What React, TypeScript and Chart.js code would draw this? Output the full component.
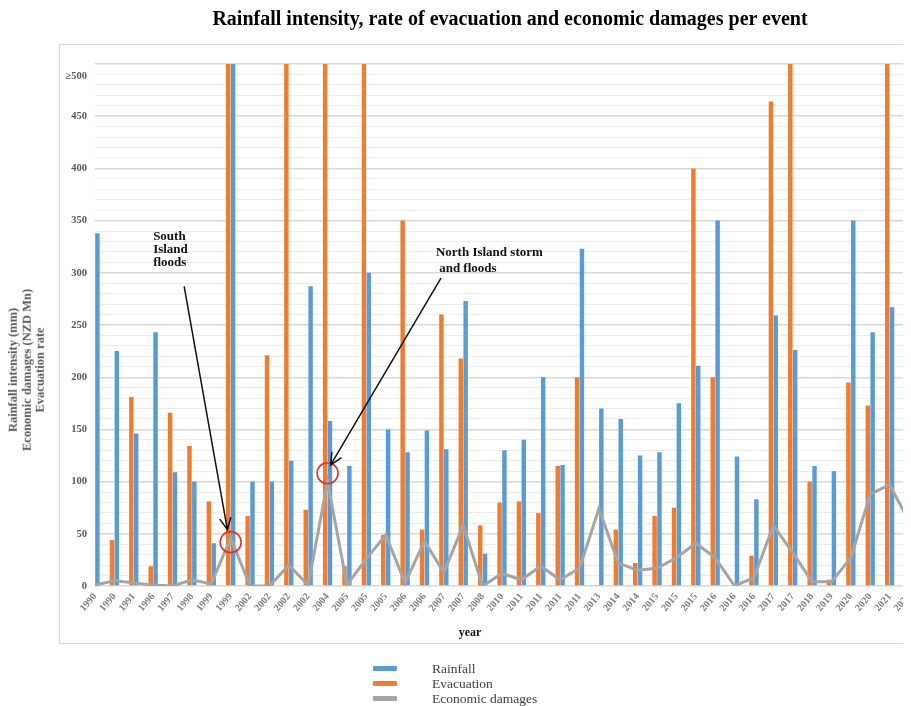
import React, { useEffect, useRef } from 'react';
import { Chart, registerables } from 'chart.js';

Chart.register(...registerables);

const categories = [
  '1990', '1990', '1991', '1996', '1997', '1998', '1999', '1999', '2002', '2002',
  '2002', '2002', '2004', '2005', '2005', '2005', '2006', '2006', '2007', '2007',
  '2008', '2010', '2011', '2011', '2011', '2011', '2013', '2014', '2014', '2015',
  '2015', '2015', '2016', '2016', '2016', '2017', '2017', '2018', '2019', '2020',
  '2020', '2021', '2021',
];

const rainfall = [
  338, 225, 146, 243, 109, 100, 41, 500, 100, 100,
  120, 287, 158, 115, 300, 150, 128, 149, 131, 273,
  31, 130, 140, 200, 116, 323, 170, 160, 125, 128,
  175, 211, 350, 124, 83, 259, 226, 115, 110, 350,
  243, 267, null,
];

const evacuation = [
  193, 44, 181, 19, 166, 134, 81, 500, 67, 221,
  500, 73, 500, 19, 500, 49, 350, 54, 260, 218,
  58, 80, 81, 70, 115, 200, 1, 54, 22, 67,
  75, 400, 200, 0, 29, 464, 500, 100, 6, 195,
  173, 500, 55,
];

const economicDamages = [
  1, 5, 3, 1, 0, 6, 2, 46, 0, 0,
  20, 1, 100, 1, 26, 49, 3, 43, 13, 58,
  0, 12, 6, 19, 6, 17, 74, 22, 15, 17,
  27, 41, 27, 0, 8, 58, 32, 4, 4, 27,
  88, 97, 62,
];

const yLabeledTicks = [0, 50, 100, 150, 200, 250, 300, 350, 400, 450, 500];
const yTickLabels = ['0', '50', '100', '150', '200', '250', '300', '350', '400', '450', '≥500'];

const seriesNames = ['Rainfall', 'Evacuation', 'Economic damages'];
const seriesColors = ['#5B9BD5', '#ED7D31', '#A5A5A5'];

const chartTitle = 'Rainfall intensity, rate of evacuation and economic damages per event';
const yTitleLines = ['Rainfall intensity (mm)', 'Economic damages (NZD Mn)', 'Evacuation rate'];
const xTitle = 'year';

// annotation geometry, in axis units (category index, value)
const circleMarks = [
  { i: 7, v: 42 },
  { i: 12, v: 108 },
];
const arrowMarks = [
  { from: { i: 4.6, v: 287 }, to: { i: 6.83, v: 54 } },
  { from: { i: 17.85, v: 295 }, to: { i: 12.16, v: 116 } },
];
const noteMarks = [
  { i: 3.0, v: 331, lines: ['South', 'Island', 'floods'], step: 13 },
  { i: 17.59, v: 316, lines: ['North Island storm', ' and floods'], step: 16 },
];

const SERIF = '"Liberation Serif", "Times New Roman", serif';

const annotationPlugin = {
  id: 'floodNotes',
  afterDatasetsDraw(chart: any) {
    const { ctx } = chart;
    const xs = chart.scales.x;
    const ys = chart.scales.y;
    const P = (p: { i: number; v: number }) => [xs.getPixelForValue(p.i), ys.getPixelForValue(p.v)];
    ctx.save();
    ctx.strokeStyle = '#E8302A';
    ctx.lineWidth = 1.6;
    circleMarks.forEach((c) => {
      const [cx, cy] = P(c);
      ctx.beginPath();
      ctx.arc(cx, cy, 10.5, 0, Math.PI * 2);
      ctx.stroke();
    });
    ctx.strokeStyle = '#111';
    ctx.lineWidth = 1.5;
    arrowMarks.forEach((a) => {
      const [x1, y1] = P(a.from);
      const [x2, y2] = P(a.to);
      ctx.beginPath();
      ctx.moveTo(x1, y1);
      ctx.lineTo(x2, y2);
      const ang = Math.atan2(y2 - y1, x2 - x1);
      const len = 13;
      const spread = 0.45;
      ctx.moveTo(x2 - len * Math.cos(ang - spread), y2 - len * Math.sin(ang - spread));
      ctx.lineTo(x2, y2);
      ctx.lineTo(x2 - len * Math.cos(ang + spread), y2 - len * Math.sin(ang + spread));
      ctx.stroke();
    });
    ctx.fillStyle = '#111';
    ctx.font = `bold 13px ${SERIF}`;
    ctx.textAlign = 'left';
    ctx.textBaseline = 'alphabetic';
    noteMarks.forEach((n) => {
      const [tx, ty] = P(n);
      n.lines.forEach((line, k) => ctx.fillText(line, tx, ty + k * n.step));
    });
    ctx.restore();
  },
};

export default function App() {
  const canvasRef = useRef<HTMLCanvasElement | null>(null);

  useEffect(() => {
    const canvas = canvasRef.current;
    if (!canvas) return;
    const chart = new Chart(canvas, {
      type: 'bar',
      data: {
        labels: categories,
        datasets: [
          {
            type: 'line',
            label: seriesNames[2],
            data: economicDamages,
            borderColor: seriesColors[2],
            backgroundColor: seriesColors[2],
            borderWidth: 3,
            pointRadius: 0,
            tension: 0,
            order: 0,
            clip: 0,
          } as any,
          {
            type: 'bar',
            label: seriesNames[1],
            data: evacuation,
            backgroundColor: seriesColors[1],
            categoryPercentage: 0.5,
            barPercentage: 0.92,
            order: 1,
            clip: 0,
          },
          {
            type: 'bar',
            label: seriesNames[0],
            data: rainfall,
            backgroundColor: seriesColors[0],
            categoryPercentage: 0.5,
            barPercentage: 0.92,
            order: 1,
            clip: 0,
          },
        ],
      },
      plugins: [annotationPlugin],
      options: {
        responsive: false,
        animation: false,
        layout: { padding: { top: 56, left: 0, right: 2, bottom: 80 } },
        plugins: {
          legend: { display: false },
          title: { display: false },
          tooltip: { enabled: false },
        },
        scales: {
          x: {
            offset: false,
            grid: { display: false, offset: false, drawTicks: false },
            border: { display: false },
            ticks: {
              autoSkip: false,
              minRotation: 50,
              maxRotation: 50,
              padding: 5,
              color: '#7F7F7F',
              font: { family: SERIF, size: 10, weight: 'bold' },
            },
            afterFit: (s: any) => {
              s.height = 40;
              s.paddingRight = 0;
              s.paddingLeft = 0;
            },
          },
          y: {
            min: 0,
            max: 500,
            grid: {
              drawTicks: false,
              color: (c: any) => (c.tick && c.tick.value % 50 === 0 ? '#D9D9D9' : '#EDEDED'),
              lineWidth: (c: any) => (c.tick && c.tick.value % 50 === 0 ? 1.4 : 1),
            },
            border: { display: false },
            ticks: {
              stepSize: 10,
              autoSkip: false,
              padding: 8,
              color: '#595959',
              font: { family: SERIF, size: 10.5, weight: 'bold', lineHeight: 1.2 },
              callback: (value: any) => {
                const k = yLabeledTicks.indexOf(Number(value));
                if (k < 0) return '';
                const t = yTickLabels[k];
                return Number(value) === 500 ? ['', '', t] : t;
              },
            },
            afterFit: (s: any) => {
              s.width = 87;
            },
          },
        },
      } as any,
    });
    return () => chart.destroy();
  }, []);

  return (
    <div
      style={{
        position: 'relative',
        width: 903,
        height: 698,
        overflow: 'hidden',
        fontFamily: SERIF,
        background: '#fff',
      }}
    >
      <div
        style={{
          position: 'absolute',
          left: 51,
          top: 36,
          width: 849,
          height: 600,
          border: '1px solid #D9D9D9',
          boxSizing: 'border-box',
        }}
      />
      <canvas
        ref={canvasRef}
        width={903}
        height={698}
        style={{ position: 'absolute', left: 0, top: 0, width: 903, height: 698 }}
      />
      <div
        style={{
          position: 'absolute',
          left: 502,
          top: -1,
          transform: 'translateX(-50%)',
          whiteSpace: 'nowrap',
          fontWeight: 'bold',
          fontSize: 20,
          lineHeight: '22px',
          color: '#000',
        }}
      >
        {chartTitle}
      </div>
      <div
        style={{
          position: 'absolute',
          left: 19,
          top: 362,
          transform: 'translate(-50%, -50%) rotate(-90deg)',
          whiteSpace: 'nowrap',
          textAlign: 'center',
          fontWeight: 'bold',
          fontSize: 12.5,
          lineHeight: '13.5px',
          color: '#595959',
        }}
      >
        {yTitleLines.map((t) => (
          <div key={t}>{t}</div>
        ))}
      </div>
      <div
        style={{
          position: 'absolute',
          left: 462,
          top: 624,
          transform: 'translate(-50%, -50%)',
          fontWeight: 'bold',
          fontSize: 12,
          color: '#111',
        }}
      >
        {xTitle}
      </div>
      {seriesNames.map((name, k) => (
        <div
          key={name}
          style={{
            position: 'absolute',
            left: 365,
            top: 653 + k * 15,
            height: 15,
            display: 'flex',
            alignItems: 'center',
          }}
        >
          <div style={{ width: 24, height: 4.5, background: seriesColors[k], borderRadius: 1 }} />
          <div style={{ marginLeft: 35, fontSize: 13.5, color: '#404040', whiteSpace: 'nowrap' }}>{name}</div>
        </div>
      ))}
    </div>
  );
}
